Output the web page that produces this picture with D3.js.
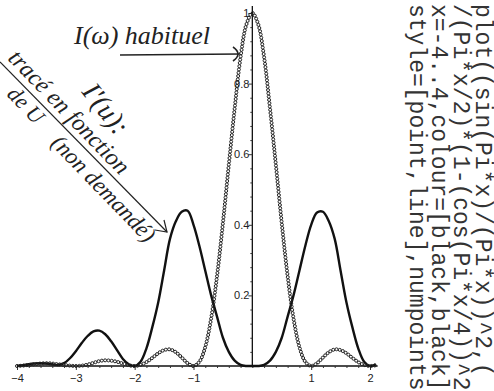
<!DOCTYPE html>
<html>
<head>
<meta charset="utf-8">
<script src="https://cdn.jsdelivr.net/npm/d3@7"></script>
<style>
  body { margin: 0; background: #fff; }
  svg { display: block; }
  .tick-label { font-family: "Liberation Sans", Arial, sans-serif; font-size: 11px; fill: #222; }
  .hand { font-family: "Liberation Serif", serif; font-style: italic; fill: #222; }
  .code { font-family: "Liberation Mono", "Courier New", monospace; font-size: 23px; fill: #333; }
</style>
</head>
<body>
<svg id="chart" width="494" height="391"></svg>
<script>
// x positions
const xs = [-4.0, -3.9, -3.8, -3.7, -3.6, -3.5, -3.4, -3.3, -3.2, -3.1,
  -3.0, -2.9, -2.8, -2.7, -2.6, -2.5, -2.4, -2.3, -2.2, -2.1,
  -2.0, -1.9, -1.8, -1.7, -1.6, -1.5, -1.4, -1.3, -1.2, -1.1,
  -1.0, -0.9, -0.8, -0.7, -0.6, -0.5, -0.4, -0.3, -0.2, -0.1,
  0.0, 0.1, 0.2, 0.3, 0.4, 0.5, 0.6, 0.7, 0.8, 0.9,
  1.0, 1.1, 1.2, 1.3, 1.4, 1.5, 1.6, 1.7, 1.8, 1.9, 2.0, 2.1];

// I(u) "habituel" -> drawn with points
const pointValues = [0.0, 0.001, 0.003, 0.005, 0.007, 0.008, 0.007, 0.005, 0.003, 0.001,
  0.0, 0.001, 0.004, 0.009, 0.014, 0.016, 0.015, 0.012, 0.007, 0.002,
  0.0, 0.003, 0.011, 0.023, 0.036, 0.045, 0.047, 0.039, 0.024, 0.008,
  0.0, 0.012, 0.054, 0.135, 0.255, 0.405, 0.57, 0.73, 0.875, 0.968,
  1.0, 0.968, 0.875, 0.73, 0.57, 0.405, 0.255, 0.135, 0.054, 0.012,
  0.0, 0.008, 0.024, 0.039, 0.047, 0.045, 0.036, 0.023, 0.011, 0.003, 0.0, 0.002];

// I'(u) -> drawn as a line
const lineValues = [0.0, 0.002, 0.005, 0.007, 0.008, 0.007, 0.005, 0.003, 0.008, 0.022,
  0.042, 0.065, 0.085, 0.098, 0.1, 0.09, 0.07, 0.045, 0.02, 0.005,
  0.0, 0.012, 0.05, 0.11, 0.18, 0.27, 0.36, 0.41, 0.437, 0.44,
  0.40, 0.34, 0.27, 0.2, 0.14, 0.08, 0.04, 0.015, 0.003, 0.0,
  0.0, 0.0, 0.003, 0.015, 0.04, 0.08, 0.14, 0.2, 0.27, 0.34,
  0.40, 0.435, 0.437, 0.41, 0.36, 0.27, 0.18, 0.11, 0.05, 0.012, 0.0, 0.005];

const xTicks = [-4, -3, -2, -1, 1, 2];
const yTicks = [0.2, 0.4, 0.6, 0.8, 1];

const codeLines = [
  "plot((sin(Pi*x)/(Pi*x))^2,(",
  "/(Pi*x/2)*(1-(cos(Pi*x/4))^2",
  "x=-4..4,colour=[black,black]",
  "style=[point,line],numpoints"
];

const svg = d3.select('#chart');

const x = d3.scaleLinear().domain([-4, 2]).range([17, 370]);
const y = d3.scaleLinear().domain([0, 1]).range([366, 13]);

// axes
const xAxis = d3.axisBottom(x)
  .tickValues(d3.range(-20, 11).map(d => d / 5).filter(d => d >= -4 && d <= 2.1))
  .tickSize(3)
  .tickFormat(d => xTicks.includes(d) ? d3.format('d')(d) : '');
const gx = svg.append('g').attr('transform', `translate(0,${y(0)})`).call(xAxis);
gx.select('.domain').attr('d', `M${x(-4)},0H${x(2.13)}`).attr('stroke', '#111').attr('stroke-width', 1.3);
gx.selectAll('.tick line').attr('stroke', '#333')
  .attr('y2', d => xTicks.includes(d) ? 4 : 2);
gx.selectAll('.tick text').attr('class', 'tick-label').attr('dy', '0.9em').attr('font-size', null).attr('font-family', null);

const yAxis = d3.axisLeft(y)
  .tickValues(d3.range(1, 26).map(d => d / 25))
  .tickSize(3)
  .tickFormat(d => yTicks.some(t => Math.abs(t - d) < 1e-9) ? d3.format('~g')(d) : '');
const gy = svg.append('g').attr('transform', `translate(${x(0)},0)`).call(yAxis);
gy.select('.domain').attr('d', `M0,${y(0)}V${y(1.02)}`).attr('stroke', '#111').attr('stroke-width', 1.3);
gy.selectAll('.tick line').attr('stroke', '#333')
  .attr('x2', d => yTicks.some(t => Math.abs(t - d) < 1e-9) ? -4 : -2);
gy.selectAll('.tick text').attr('class', 'tick-label').attr('x', -3).attr('font-size', null).attr('font-family', null);

// solid curve
const lineData = xs.map((v, i) => [v, lineValues[i]]);
const line = d3.line().x(d => x(d[0])).y(d => y(d[1])).curve(d3.curveCatmullRom);
svg.append('path').datum(lineData)
  .attr('d', line)
  .attr('fill', 'none')
  .attr('stroke', '#111')
  .attr('stroke-width', 2.4)
  .attr('stroke-linejoin', 'round');

// point curve: sample markers along the curve through the data
const pointData = xs.map((v, i) => [v, pointValues[i]]);
const guide = svg.append('path').datum(pointData)
  .attr('d', line).attr('fill', 'none').attr('stroke', 'none');
const node = guide.node();
const total = node.getTotalLength();
const marks = d3.range(0, total, 3.3).map(l => node.getPointAtLength(l));
svg.append('g').selectAll('circle').data(marks).join('circle')
  .attr('cx', d => d.x).attr('cy', d => d.y).attr('r', 1.5)
  .attr('fill', 'none').attr('stroke', '#222').attr('stroke-width', 1);

// handwritten notes
svg.append('text').attr('class', 'hand').attr('x', 74).attr('y', 44)
  .attr('font-size', 26).text('I(ω) habituel');
svg.append('line').attr('x1', 120).attr('y1', 55).attr('x2', 240).attr('y2', 54)
  .attr('stroke', '#222').attr('stroke-width', 1.3);
svg.append('path').attr('d', 'M233,47 Q243,54 233,61')
  .attr('fill', 'none').attr('stroke', '#222').attr('stroke-width', 1.6);

svg.append('line').attr('x1', 0).attr('y1', 62).attr('x2', 167).attr('y2', 232)
  .attr('stroke', '#222').attr('stroke-width', 1.2);
svg.append('path').attr('d', 'M155,230 L167,232 L164,220')
  .attr('fill', 'none').attr('stroke', '#222').attr('stroke-width', 1.2);

svg.append('text').attr('class', 'hand').attr('font-size', 24)
  .attr('transform', 'translate(7,59) rotate(46)').text('tracé en fonction');
svg.append('text').attr('class', 'hand').attr('font-size', 22)
  .attr('transform', 'translate(6,95) rotate(46)').text('de U');
svg.append('text').attr('class', 'hand').attr('font-size', 23)
  .attr('transform', 'translate(50,144) rotate(46)').text('(non demandé)');
svg.append('text').attr('class', 'hand').attr('font-size', 28)
  .attr('transform', 'translate(81,92) rotate(52)').text("I'(u):");

// code text, rotated
svg.append('g').selectAll('text').data(codeLines).join('text')
  .attr('class', 'code')
  .attr('transform', (d, i) => `translate(${476 - i * 22},4) rotate(90)`)
  .text(d => d);
</script>
</body>
</html>
